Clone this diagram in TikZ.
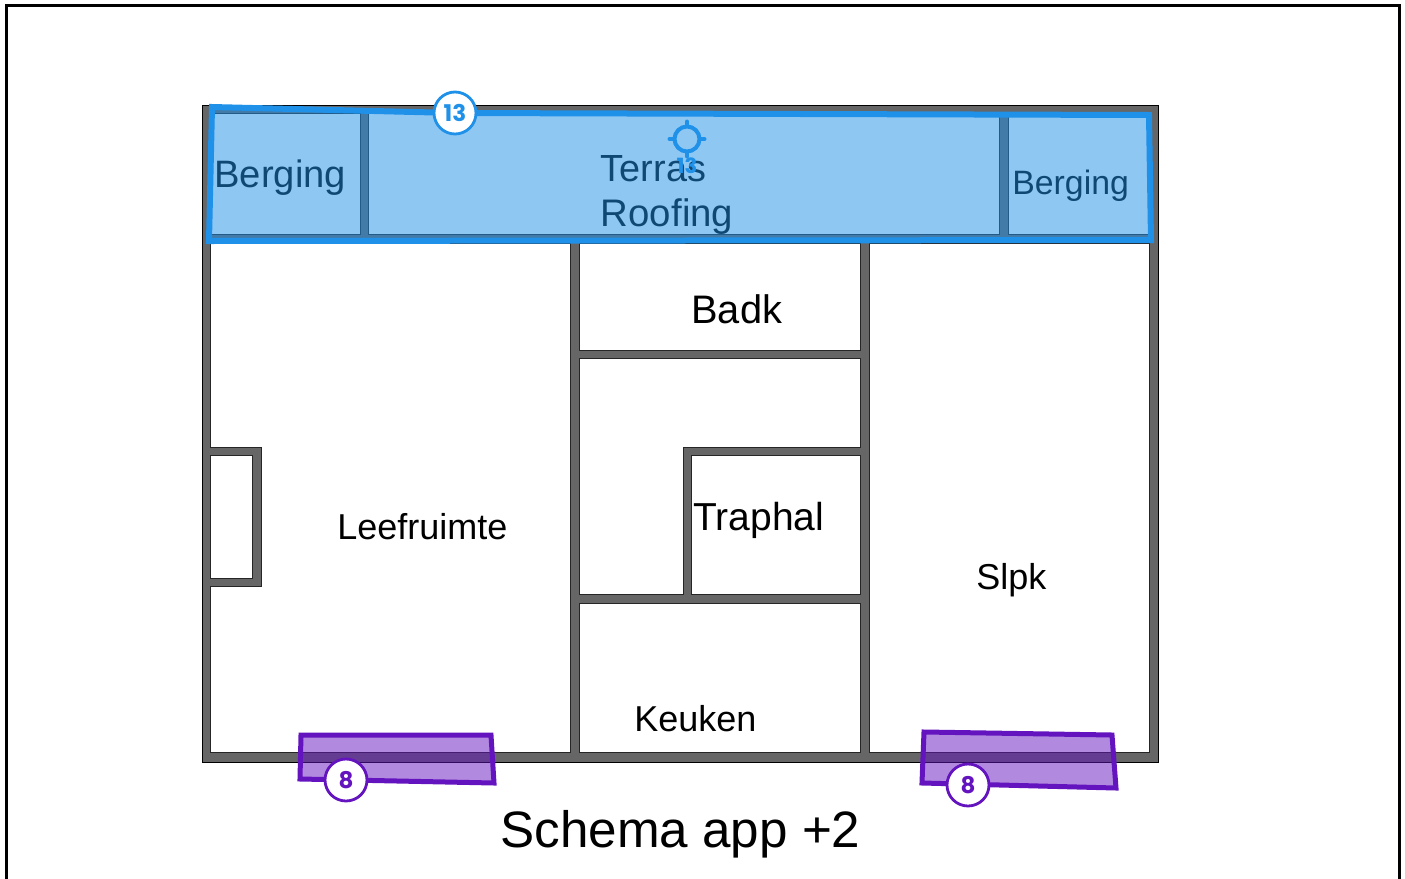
\documentclass[tikz,border=0pt]{standalone}
\usepackage{fontspec}
\setmainfont{Liberation Sans}
\newfontfamily\badgefont{Poppins}
\usepackage{tikz}

\definecolor{wallgrey}{HTML}{666666}
\definecolor{areablue}{HTML}{2091E8}
\definecolor{areapurple}{HTML}{6414BE}

\newcommand{\labelsize}[1]{\fontsize{#1}{#1}\selectfont}

\begin{document}
\begin{tikzpicture}[x=.5pt, y=-.5pt,
  room/.style = {draw=black!85, line width=.5pt, fill=white},
  roomlabel/.style = {anchor=base west, inner sep=0pt, text=black},
  zone/.style = {line width=2.5pt, line join=miter, fill opacity=.5, draw opacity=1},
  badge/.style = {circle, draw, fill=white, line width=1.4pt, minimum size=21pt, inner sep=0pt,
    font=\badgefont\bfseries\labelsize{11.5}}]
  \useasboundingbox (0,0) rectangle (1405,879);

  % page frame
  \draw[line width=1.5pt, black] (6.5,879) -- (6.5,5) -- (1399,5) -- (1399,879);

  % walls, rooms on top
  \draw[fill=wallgrey, draw=black, line width=.8pt] (202.5,105.5) rectangle (1158.5,762.5);
  \draw[room] (210.5,113.5) rectangle (360.5,234.5);
  \draw[room] (368.5,113.5) rectangle (999.5,234.5);
  \draw[room] (1008.5,113.5) rectangle (1149.5,234.5);
  \draw[room] (210.5,243.5) -- (570.5,243.5) -- (570.5,752.5) -- (210.5,752.5) -- (210.5,586.5) -- (261.5,586.5)
    -- (261.5,447.5) -- (210.5,447.5) -- cycle;
  \draw[room] (210.5,455.5) rectangle (252.5,578.5);
  \draw[room] (579.5,243.5) rectangle (860.5,350.5);
  \draw[room] (579.5,358.5) -- (860.5,358.5) -- (860.5,447.5) -- (683.5,447.5) -- (683.5,594.5) -- (579.5,594.5) -- cycle;
  \draw[room] (691.5,455.5) rectangle (860.5,594.5);
  \draw[room] (579.5,603.5) rectangle (860.5,752.5);
  \draw[room] (869.5,243.5) rectangle (1149.5,752.5);

  % room names
  \node[roomlabel, font=\labelsize{19.1}] (bergingleft) at (214,187) {Berging};
  \node[roomlabel, font=\labelsize{18.9}] (terras) at (600.5,181) {Terras};
  \node[roomlabel, font=\labelsize{19.2}] (roofing) at (600.5,226) {Roofing};
  \node[roomlabel, font=\labelsize{16.9}] (bergingright) at (1012,194) {Berging};
  \node[roomlabel, font=\labelsize{19.9}] (badk) at (691,323) {Badk};
  \node[roomlabel, font=\labelsize{18}] (leefruimte) at (337,539) {Leefruimte};
  \node[roomlabel, font=\labelsize{19.5}] (traphal) at (693,530) {Traphal};
  \node[roomlabel, font=\labelsize{18}] (slpk) at (976,589) {Slpk};
  \node[roomlabel, font=\labelsize{18}] (keuken) at (634,731) {Keuken};
  \node[roomlabel, font=\labelsize{25.6}] (title) at (500,847) {Schema app +2};

  % marked zones
  \draw[zone, line width=3pt, draw=areablue, fill=areablue] (212,107) -- (455,113) -- (1149,115) -- (1151,240) -- (209,241) -- cycle;
  \draw[zone, draw=areapurple, fill=areapurple] (301,735) -- (491,735) -- (494,783) -- (300,779) -- cycle;
  \draw[zone, draw=areapurple, fill=areapurple] (924,732) -- (1112,735) -- (1116,788) -- (922,783) -- cycle;

  % target mark
  \node[circle, draw=areablue, line width=2pt, minimum size=12.5pt, inner sep=0pt] (target) at (687,139) {};
  \draw[areablue, line width=2pt, line cap=round] (target.north) -- ++(0,-3);
  \draw[areablue, line width=2pt, line cap=round] (target.south) -- ++(0,3);
  \draw[areablue, line width=2pt, line cap=round] (target.west) -- ++(-3,0);
  \draw[areablue, line width=2pt, line cap=round] (target.east) -- ++(3,0);
  \node[inner sep=0pt, text=areablue, font=\badgefont\bfseries\labelsize{10.5}] (targetlabel) at (687,166) {13};

  % badges
  \node[badge, draw=areablue, text=areablue] (badgeterras) at (455,113) {13};
  \node[badge, draw=areapurple, text=areapurple] (badgeleft) at (346,780) {8};
  \node[badge, draw=areapurple, text=areapurple] (badgeright) at (968,785) {8};
\end{tikzpicture}
\end{document}
